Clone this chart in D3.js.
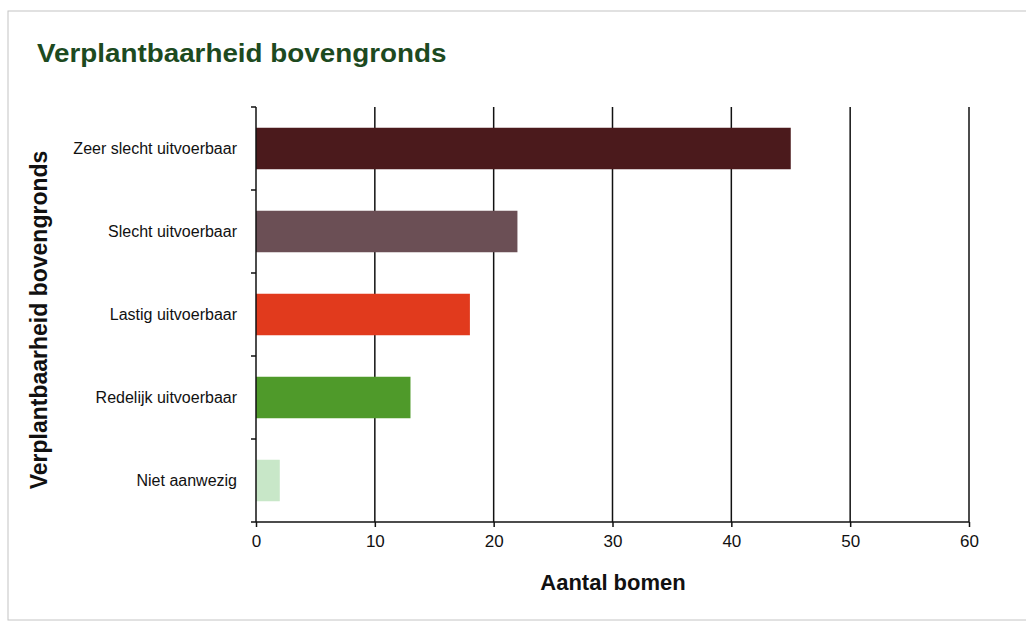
<!DOCTYPE html>
<html><head><meta charset="utf-8">
<script src="https://cdn.jsdelivr.net/npm/d3@7"></script>
<style>body{margin:0;background:#fff;}svg{display:block;font-family:"Liberation Sans",Arial,sans-serif;}</style>
</head><body><svg id="c" width="1026" height="625"></svg>
<script>
const categories = ["Zeer slecht uitvoerbaar","Slecht uitvoerbaar","Lastig uitvoerbaar","Redelijk uitvoerbaar","Niet aanwezig"];
const values = [45, 22, 18, 13, 2];
const colors = ["#4b1a1c","#6b4f55","#e13a1d","#4f9a2a","#c8e7c8"];
const xTicks = [0,10,20,30,40,50,60];
const title = "Verplantbaarheid bovengronds";
const xTitle = "Aantal bomen";
const yTitle = "Verplantbaarheid bovengronds";

const svg = d3.select("#c");
// frame
svg.append("rect").attr("x",8).attr("y",11).attr("width",1030).attr("height",609)
  .attr("fill","none").attr("stroke","#c4c4c4").attr("stroke-width",1);

const L=256, R=969, T=107, B=522;
const x = d3.scaleLinear().domain([0,60]).range([L,R]);
const y = d3.scaleBand().domain(categories).range([T,B]).paddingInner(0.5).paddingOuter(0.25);

// gridlines
svg.append("g").selectAll("line").data(xTicks.slice(1)).join("line")
  .attr("x1",d=>x(d)).attr("x2",d=>x(d)).attr("y1",T).attr("y2",B)
  .attr("stroke","#111").attr("stroke-width",1.5);

// bars
svg.append("g").selectAll("rect").data(values).join("rect")
  .attr("x",x(0)).attr("y",(d,i)=>y(categories[i]))
  .attr("width",d=>x(d)-x(0)).attr("height",y.bandwidth())
  .attr("fill",(d,i)=>colors[i]);

// x axis
const xa = svg.append("g").attr("transform",`translate(0,${B})`)
  .call(d3.axisBottom(x).tickValues(xTicks).tickSize(5).tickPadding(8));
xa.select(".domain").attr("stroke","#111").attr("stroke-width",1.5).attr("d",`M${L},0H${R}`);
xa.selectAll(".tick line").attr("stroke","#111").attr("stroke-width",1.5);
xa.selectAll("text").attr("font-size",17).attr("fill","#111").attr("font-family","Liberation Sans, Arial, sans-serif");

// y axis
const yb = d3.scaleLinear().domain([0,5]).range([T,B]);
const ya = svg.append("g").attr("transform",`translate(${L},0)`);
ya.append("line").attr("x1",0).attr("x2",0).attr("y1",T).attr("y2",B).attr("stroke","#111").attr("stroke-width",1.5);
ya.selectAll("line.t").data(d3.range(6)).join("line").attr("class","t")
  .attr("x1",-5).attr("x2",0).attr("y1",d=>yb(d)).attr("y2",d=>yb(d)).attr("stroke","#111").attr("stroke-width",1.5);
ya.selectAll("text").data(categories).join("text")
  .attr("x",-19).attr("y",d=>y(d)+y.bandwidth()/2).attr("dy","0.35em")
  .attr("text-anchor","end").attr("font-size",16).attr("fill","#111").text(d=>d);

// titles
svg.append("text").attr("transform","translate(37,62) scale(1.07,1)").attr("font-size",26).attr("font-weight","bold")
  .attr("fill","#1d4a1f").text(title);
svg.append("text").attr("x",613).attr("y",590).attr("text-anchor","middle").attr("font-size",22)
  .attr("font-weight","bold").attr("fill","#111").text(xTitle);
svg.append("text").attr("transform","translate(47,320) rotate(-90)").attr("text-anchor","middle")
  .attr("font-size",23).attr("font-weight","bold").attr("fill","#111").text(yTitle);
</script></body></html>
